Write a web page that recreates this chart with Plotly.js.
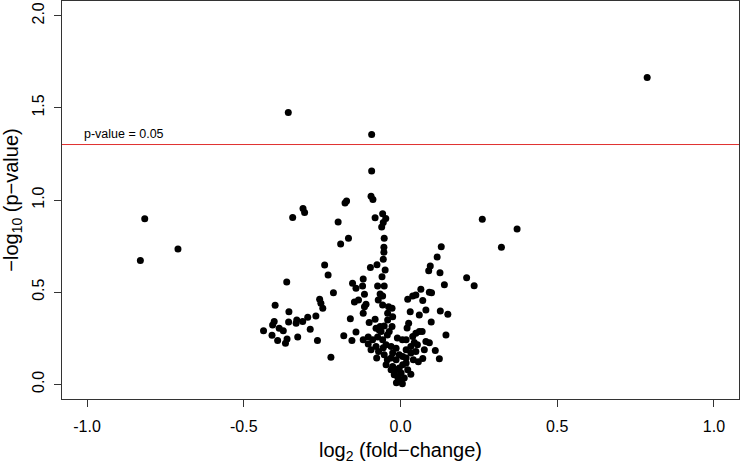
<!DOCTYPE html>
<html>
<head>
<meta charset="utf-8">
<script src="https://cdn.plot.ly/plotly-3.0.1.min.js"></script>
<style>html,body{margin:0;padding:0;background:#fff}#chart{width:740px;height:464px}</style>
</head>
<body>
<div id="chart"></div>
<script>
// log2 fold-change values
var log2FC = [
 0.787,-0.358,-0.092,-0.816,-0.710,-0.830, 0.261, 0.372, 0.322, 0.211,
 0.235,-0.344,-0.311,-0.306,-0.092,-0.094,-0.088,-0.172,-0.177,-0.199,
-0.081,-0.057,-0.047,-0.055,-0.060,-0.166,-0.052,-0.191,-0.053,-0.053,
-0.055, 0.130, 0.117, 0.095,-0.242,-0.096,-0.075,-0.049,-0.231, 0.090,
 0.126, 0.140,-0.363,-0.153,-0.142,-0.121,-0.119,-0.073,-0.052,-0.059,
-0.065,-0.057,-0.071,-0.214,-0.115,-0.134,-0.147,-0.110,-0.115,-0.258,
-0.254,-0.248,-0.400,-0.356, 0.023, 0.039, 0.049, 0.065, 0.092, 0.099,
 0.071,-0.057,-0.038,-0.027,-0.041,-0.119, 0.081, 0.060, 0.127, 0.151,
-0.270,-0.296,-0.312,-0.331,-0.333,-0.357,-0.288,-0.328,-0.265,-0.403,
-0.408,-0.437,-0.387,-0.374,-0.410,-0.392,-0.367,-0.362,-0.160,-0.142,
-0.181,-0.155,-0.119,-0.100,-0.081,-0.078,-0.065,-0.025,-0.041,-0.027,
-0.036, 0.026,-0.222,-0.103,-0.089,-0.073,-0.062,-0.057,-0.046,-0.078,
-0.070,-0.076,-0.052,-0.030,-0.025,-0.014,-0.030,-0.014,-0.004, 0.007,
 0.018, 0.039, 0.049, 0.060, 0.069, 0.081, 0.044, 0.033, 0.018, 0.033,
 0.049, 0.018, 0.071, 0.111, 0.124, 0.145,-0.025,-0.014,-0.004,-0.020,
-0.009, 0.002,-0.004, 0.012, 0.033, 0.023, 0.007, 0.018,-0.046,-0.030,
-0.013, 0.006,-0.007,-0.042,-0.055, 0.054, 0.076, 0.092, 0.041, 0.057,
-0.068,-0.042, 0.021, 0.006,-0.010, 0.098, 0.031,-0.094,-0.103,-0.052
];
// -log10 p-values
var negLog10P = [
 1.665, 1.475, 1.355, 0.898, 0.734, 0.672, 0.896, 0.842, 0.743, 0.578,
 0.535, 0.905, 0.954, 0.932, 1.158, 1.021, 1.003, 0.995, 0.984, 0.880,
 0.903, 0.925, 0.900, 0.878, 0.853, 0.792, 0.792, 0.761, 0.743, 0.717,
 0.678, 0.746, 0.690, 0.642, 0.647, 0.634, 0.649, 0.620, 0.593, 0.616,
 0.605, 0.540, 0.555, 0.548, 0.521, 0.533, 0.571, 0.533, 0.533, 0.584,
 0.490, 0.479, 0.457, 0.497, 0.488, 0.457, 0.447, 0.434, 0.421, 0.461,
 0.440, 0.413, 0.429, 0.394, 0.461, 0.479, 0.485, 0.515, 0.499, 0.497,
 0.454, 0.430, 0.421, 0.413, 0.385, 0.385, 0.403, 0.376, 0.398, 0.380,
 0.371, 0.364, 0.340, 0.349, 0.331, 0.338, 0.299, 0.256, 0.237, 0.340,
 0.322, 0.291, 0.304, 0.291, 0.266, 0.237, 0.223, 0.246, 0.355, 0.283,
 0.263, 0.237, 0.241, 0.335, 0.353, 0.304, 0.313, 0.367, 0.349, 0.313,
 0.286, 0.331, 0.147, 0.256, 0.241, 0.256, 0.286, 0.241, 0.214, 0.205,
 0.178, 0.142, 0.160, 0.205, 0.169, 0.196, 0.142, 0.133, 0.160, 0.151,
 0.241, 0.259, 0.277, 0.286, 0.286, 0.232, 0.226, 0.205, 0.187, 0.169,
 0.178, 0.142, 0.140, 0.183, 0.138, 0.268, 0.096, 0.079, 0.088, 0.051,
 0.042, 0.061, 0.015, 0.034, 0.055, 0.079, 0.106, 0.115, 0.106, 0.079,
 0.008, 0.003, 0.030, 0.133, 0.198, 0.214, 0.187, 0.225, 0.133, 0.122,
 0.295, 0.268, 0.306, 0.241, 0.251, 0.338, 0.393, 0.187, 0.219, 0.316
];
var xTickVals = [-1, -0.5, 0, 0.5, 1];
var xTickText = ['-1.0', '-0.5', '0.0', '0.5', '1.0'];
var yTickVals = [0, 0.5, 1, 1.5, 2];
var yTickText = ['0.0', '0.5', '1.0', '1.5', '2.0'];
var pThreshold = 0.05;
var thresholdLabel = 'p-value = 0.05';
var thrY = -Math.log10(pThreshold);

var FONT = 'Liberation Sans, Arial, Helvetica, sans-serif';

var trace = {
  x: log2FC, y: negLog10P, type: 'scatter', mode: 'markers',
  marker: {color: '#000', size: 7, line: {width: 0}},
  hoverinfo: 'x+y'
};

var layout = {
  width: 740, height: 464,
  margin: {l: 62, r: 1, t: 1, b: 65, pad: 0},
  paper_bgcolor: '#fff', plot_bgcolor: '#fff',
  showlegend: false,
  font: {family: FONT, color: '#000', size: 16},
  xaxis: {
    range: [-1.08, 1.08], tickvals: xTickVals, ticktext: xTickText,
    showgrid: false, zeroline: false, showline: true, mirror: true,
    linecolor: '#333', linewidth: 1, ticks: 'outside', ticklen: 7,
    tickcolor: '#333', tickfont: {size: 16, family: FONT, color: '#000'},
    ticklabelstandoff: 6,
    title: {text: 'log<sub>2</sub> (fold\u2212change)', font: {size: 20, family: FONT, color: '#000'}, standoff: 16}
  },
  yaxis: {
    range: [-0.08, 2.08], tickvals: yTickVals, ticktext: yTickText,
    showgrid: false, zeroline: false, showline: true, mirror: true,
    linecolor: '#333', linewidth: 1, ticks: 'outside', ticklen: 7,
    tickcolor: '#333', tickangle: -90,
    tickfont: {size: 16, family: FONT, color: '#000'},
    ticklabelstandoff: 4,
    title: {text: '\u2212log<sub>10</sub> (p\u2212value)', font: {size: 20, family: FONT, color: '#000'}, standoff: 10}
  },
  shapes: [{
    type: 'line', xref: 'paper', x0: 0, x1: 1, yref: 'y', y0: thrY, y1: thrY,
    line: {color: '#e0302f', width: 1}
  }],
  annotations: [{
    x: -1.015, y: 1.356, xref: 'x', yref: 'y', text: thresholdLabel,
    showarrow: false, xanchor: 'left', yanchor: 'middle',
    font: {size: 12.5, family: FONT, color: '#000'}
  }]
};

Plotly.newPlot('chart', [trace], layout, {displayModeBar: false, staticPlot: true});
</script>
</body>
</html>
